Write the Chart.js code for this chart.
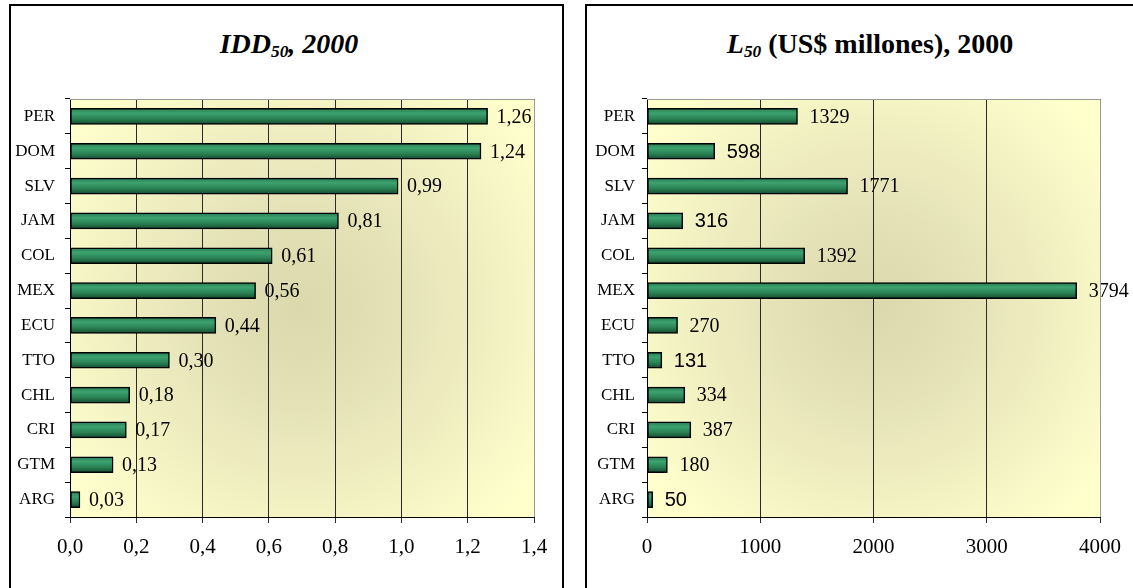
<!DOCTYPE html>
<html>
<head>
<meta charset="utf-8">
<script src="https://cdn.jsdelivr.net/npm/chart.js@4.4.0/dist/chart.umd.min.js"></script>
<style>
    html, body { margin: 0; padding: 0; background: #fff; width: 1133px; height: 588px; overflow: hidden; }
    .panel { position: absolute; border: 2px solid #000; box-sizing: border-box; }
    .title {
        position: absolute;
        font-family: "Liberation Serif", "Times New Roman", serif;
        font-weight: bold;
        font-size: 28px;
        line-height: 28px;
        white-space: nowrap;
        transform: translateX(-50%);
    }
    .title sub { font-size: 0.62em; vertical-align: -0.25em; line-height: 0; }
    canvas { position: absolute; top: 0; }
</style>
</head>
<body>
<div class="panel" style="left:9px; top:4px; width:555px; height:600px;"></div>
<div class="panel" style="left:585px; top:4px; width:600px; height:600px;"></div>
<div class="title" style="left:289px; top:30px;"><i>IDD<sub>50</sub>, 2000</i></div>
<div class="title" style="left:870px; top:30px;"><i>L<sub>50</sub></i> (US$ millones), 2000</div>
<canvas id="iddChart" width="575" height="588" style="left:0"></canvas>
<canvas id="l50Chart" width="558" height="588" style="left:575px"></canvas>

<script>
// Data
const countries = ['PER', 'DOM', 'SLV', 'JAM', 'COL', 'MEX', 'ECU', 'TTO', 'CHL', 'CRI', 'GTM', 'ARG'];
const iddValues = [1.26, 1.24, 0.99, 0.81, 0.61, 0.56, 0.44, 0.30, 0.18, 0.17, 0.13, 0.03];
const l50Values = [1329, 598, 1771, 316, 1392, 3794, 270, 131, 334, 387, 180, 50];
const iddTicks = ['0,0', '0,2', '0,4', '0,6', '0,8', '1,0', '1,2', '1,4'];
const l50Ticks = ['0', '1000', '2000', '3000', '4000'];

// labels that were typed in a sans font in the original
const l50SansLabels = ['DOM', 'JAM', 'TTO', 'ARG'];

const SERIF = "'Liberation Serif', 'Times New Roman', serif";
const SANS = "'Liberation Sans', Arial, sans-serif";

function barFill(c) {
    const chart = c.chart;
    const a = chart.chartArea;
    if (c.type !== 'data' || !a || !isFinite(a.top) || a.bottom <= a.top) return '#2e8b57';
    const n = chart.data.labels.length;
    const y = a.top + (c.dataIndex + 0.5) * (a.bottom - a.top) / n;
    const g = chart.ctx.createLinearGradient(0, y - 8, 0, y + 8);
    g.addColorStop(0, '#2a7a50');
    g.addColorStop(0.3, '#3ca370');
    g.addColorStop(0.65, '#2a8153');
    g.addColorStop(1, '#154a2f');
    return g;
}

const plotBackground = {
    id: 'plotBackground',
    beforeDraw(chart) {
        const { ctx, chartArea: a } = chart;
        const cx = (a.left + a.right) / 2;
        const cy = (a.top + a.bottom) / 2;
        const g = ctx.createRadialGradient(cx, cy, 0, cx, cy, Math.max(a.width, a.height) * 0.62);
        g.addColorStop(0, '#dcd8ad');
        g.addColorStop(0.35, '#e5e2b8');
        g.addColorStop(1, '#ffffcc');
        ctx.save();
        ctx.fillStyle = g;
        ctx.fillRect(a.left, a.top, a.width, a.height);
        ctx.restore();
    },
    afterDraw(chart) {
        const { ctx, chartArea: a } = chart;
        ctx.save();
        ctx.strokeStyle = '#9a9a9a';
        ctx.lineWidth = 1;
        ctx.beginPath();
        ctx.moveTo(a.left, a.top + 0.5);
        ctx.lineTo(a.right + 0.5, a.top + 0.5);
        ctx.lineTo(a.right + 0.5, a.bottom);
        ctx.stroke();
        ctx.restore();
    }
};

const valueLabels = {
    id: 'valueLabels',
    afterDatasetsDraw(chart, args, opts) {
        const { ctx } = chart;
        const meta = chart.getDatasetMeta(0);
        ctx.save();
        ctx.fillStyle = '#000';
        ctx.textBaseline = 'middle';
        ctx.textAlign = 'left';
        meta.data.forEach((bar, i) => {
            const cat = chart.data.labels[i];
            const sans = (opts.sans || []).includes(cat);
            ctx.font = '20px ' + (sans ? SANS : SERIF);
            ctx.fillText(opts.format(chart.data.datasets[0].data[i]), bar.x + opts.offset, bar.y + 1);
        });
        ctx.restore();
    }
};

function makeChart(id, values, cfg) {
    return new Chart(document.getElementById(id), {
        type: 'bar',
        data: {
            labels: countries,
            datasets: [{
                data: values,
                backgroundColor: barFill,
                borderColor: '#000',
                borderWidth: 1.5,
                borderSkipped: false,
                barThickness: 16
            }]
        },
        options: {
            indexAxis: 'y',
            responsive: false,
            animation: false,
            layout: { padding: cfg.padding },
            plugins: {
                legend: { display: false },
                tooltip: { enabled: false },
                valueLabels: { format: cfg.format, offset: cfg.labelOffset, sans: cfg.sans }
            },
            scales: {
                y: {
                    grid: { offset: true, drawOnChartArea: false, tickLength: 5, color: '#000' },
                    border: { color: '#000', width: 1 },
                    ticks: { font: { family: SERIF, size: 17 }, color: '#000', padding: cfg.yPad },
                    afterFit: s => { s.width = cfg.yWidth; }
                },
                x: {
                    min: 0,
                    max: cfg.max,
                    grid: { color: '#2a2a2a', tickLength: 6 },
                    border: { color: '#000', width: 1 },
                    ticks: {
                        stepSize: cfg.step,
                        autoSkip: false,
                        maxRotation: 0,
                        padding: 12,
                        color: '#000',
                        font: { family: SERIF, size: 21 },
                        callback: (v, i) => cfg.ticks[i]
                    },
                    afterFit: s => { s.height = 50; }
                }
            }
        },
        plugins: [plotBackground, valueLabels]
    });
}

makeChart('iddChart', iddValues, {
    max: 1.4,
    step: 0.2,
    ticks: iddTicks,
    yWidth: 70,
    yPad: 10,
    padding: { left: 0, top: 99, right: 41, bottom: 21 },
    labelOffset: 9,
    format: v => v.toFixed(2).replace('.', ',')
});

makeChart('l50Chart', l50Values, {
    max: 4000,
    step: 1000,
    ticks: l50Ticks,
    yWidth: 72,
    yPad: 7,
    padding: { left: 0, top: 99, right: 30, bottom: 21 },
    labelOffset: 12,
    sans: l50SansLabels,
    format: v => String(v)
});
</script>
</body>
</html>
